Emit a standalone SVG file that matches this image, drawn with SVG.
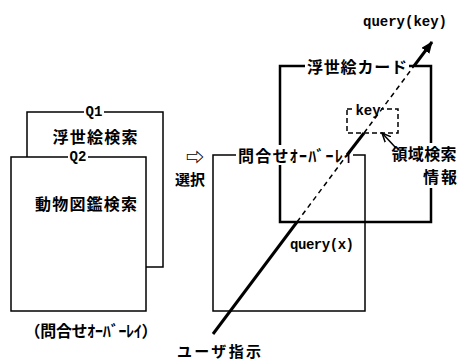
<svg xmlns="http://www.w3.org/2000/svg" width="460" height="362" viewBox="0 0 460 362">
<style>
.box{fill:#fff;stroke:#000;stroke-width:1.5}
.card{fill:none;stroke:#000;stroke-width:2.5}
.dbox{fill:none;stroke:#000;stroke-width:1.5;stroke-dasharray:5 3}
.solid{stroke:#000;stroke-width:3;fill:none}
.dash{stroke:#000;stroke-width:1.5;fill:none;stroke-dasharray:5 4}
.jp{font-family:"Noto Sans CJK JP","Noto Sans CJK SC",sans-serif;font-weight:bold;font-size:16px;fill:#000;text-anchor:middle;dominant-baseline:central}
.mono{font-family:"Liberation Mono","DejaVu Sans Mono",monospace;font-weight:bold;font-size:14px;fill:#000;text-anchor:middle;dominant-baseline:central}
.bg{fill:#fff}
</style>
<defs>
<marker id="head" viewBox="0 0 12 10" refX="11" refY="5" markerWidth="12" markerHeight="10" markerUnits="userSpaceOnUse" orient="auto">
<path d="M0,0 L12,5 L0,10 Z" fill="#000"/>
</marker>
<marker id="open" viewBox="0 0 10 10" refX="9" refY="5" markerWidth="10" markerHeight="10" markerUnits="userSpaceOnUse" orient="auto">
<path d="M0,1 L9,5 L0,9" fill="none" stroke="#000" stroke-width="1.5"/>
</marker>
</defs>

<g id="q1">
<rect class="box" x="27" y="112" width="136" height="155"/>
<rect class="bg" x="84" y="104" width="20" height="16"/>
<text class="mono" x="94" y="112">Q1</text>
<text class="jp" x="95" y="136" textLength="85">浮世絵検索</text>
</g>

<g id="q2">
<rect class="box" x="11" y="157" width="135" height="154"/>
<rect class="bg" x="68" y="149" width="20" height="16"/>
<text class="mono" x="78" y="157">Q2</text>
<text class="jp" x="86" y="203" textLength="102">動物図鑑検索</text>
</g>

<g id="q-caption">
<text class="jp" x="91" y="330" textLength="133">（問合せｵｰﾊﾞｰﾚｲ）</text>
</g>

<g id="select">
<text class="jp" x="195" y="156" style="font-size:18px">⇨</text>
<text class="jp" x="190" y="178" style="font-size:15px">選択</text>
</g>

<g id="overlay">
<rect class="box" style="fill:none" x="213" y="155" width="152" height="156"/>
</g>

<g id="card">
<rect class="card" x="280" y="66" width="151" height="156"/>
<rect class="bg" x="305" y="56" width="104" height="20"/>
<text class="jp" x="357" y="66" textLength="100">浮世絵カード</text>
<rect class="bg" x="390" y="143" width="70" height="45"/>
<text class="jp" x="424" y="153" textLength="65">領域検索</text>
<text class="jp" x="440" y="176" textLength="34">情報</text>
</g>

<g id="overlay-label">
<rect class="bg" x="236" y="145" width="117" height="20"/>
<text class="jp" x="295" y="155" textLength="114">問合せｵｰﾊﾞｰﾚｲ</text>
</g>

<g id="key">
<rect class="dbox" x="347" y="109" width="51" height="24"/>
<rect class="bg" x="354" y="104" width="27" height="13"/>
<text class="mono" x="368" y="111">key</text>
</g>

<g id="connectors">
<line class="solid" x1="213" y1="334" x2="297" y2="222"/>
<line class="dash" x1="297" y1="222" x2="347" y2="155"/>
<line class="solid" x1="347" y1="155" x2="364" y2="133"/>
<line class="dash" x1="364" y1="133" x2="414" y2="66"/>
<line class="solid" x1="414" y1="66" x2="432" y2="42" marker-end="url(#head)"/>
<line x1="396" y1="148" x2="382" y2="133" stroke="#000" stroke-width="1.5" marker-end="url(#open)"/>
</g>

<g id="labels">
<text class="mono" x="405" y="22">query(key)</text>
<text class="mono" x="322" y="245" textLength="64">query(x)</text>
<text class="jp" x="219" y="350" style="font-size:15px" textLength="84">ユーザ指示</text>
</g>
</svg>
